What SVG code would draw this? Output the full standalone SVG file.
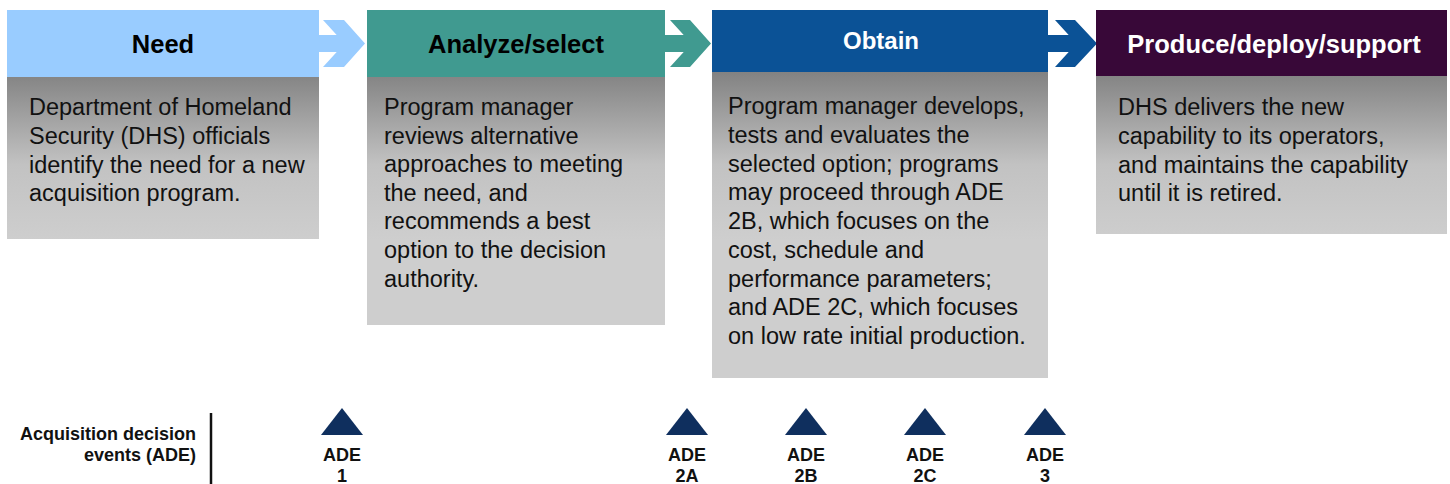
<svg xmlns="http://www.w3.org/2000/svg" width="1450" height="484" viewBox="0 0 1450 484">
<defs>
<linearGradient id="bodyGrad" gradientUnits="userSpaceOnUse" x1="0" y1="72" x2="0" y2="240">
<stop offset="0" stop-color="#828282"/>
<stop offset="0.55" stop-color="#c2c2c2"/>
<stop offset="1" stop-color="#cecece"/>
</linearGradient>
<style>
.hd{font-family:"Liberation Sans",Arial,sans-serif;font-weight:bold;font-size:25.5px;text-anchor:middle}
.bd{font-family:"Liberation Sans",Arial,sans-serif;font-size:23.5px;fill:#111}
.lb{font-family:"Liberation Sans",Arial,sans-serif;font-weight:bold;font-size:18px;fill:#111}
.ade{text-anchor:middle}
.tri{fill:#0f2f5e}
.body{fill:url(#bodyGrad)}
</style>
</defs>
<rect width="1450" height="484" fill="#ffffff"/>

<g id="connectors">
<polygon points="318,35 336.7,35 323,20 344,20 365,43.5 344,67 323,67 336.7,52 318,52" fill="#99ccff"/>
<polygon points="664,35 683.7,35 670,20 690,20 711,43.5 690,67 670,67 683.7,52 664,52" fill="#409a90"/>
<polygon points="1047,35 1068.7,35 1055,20 1075,20 1097,43.5 1075,67 1055,67 1068.7,52 1047,52" fill="#0b5296"/>
</g>

<g id="need">
<rect x="7" y="10" width="312" height="67" fill="#99ccff"/>
<rect class="body" x="7" y="77" width="312" height="162"/>
<text class="hd" x="163" y="53" fill="#000">Need</text>
<text class="bd" x="29" y="115">
<tspan x="29" y="115">Department of Homeland</tspan>
<tspan x="29" y="143.8">Security (DHS) officials</tspan>
<tspan x="29" y="172.6">identify the need for a new</tspan>
<tspan x="29" y="201.4">acquisition program.</tspan>
</text>
</g>

<g id="analyze">
<rect x="367" y="10" width="298" height="67" fill="#409a90"/>
<rect class="body" x="367" y="77" width="298" height="248"/>
<text class="hd" x="516" y="53" fill="#000">Analyze/select</text>
<text class="bd">
<tspan x="384" y="115">Program manager</tspan>
<tspan x="384" y="143.6">reviews alternative</tspan>
<tspan x="384" y="172.2">approaches to meeting</tspan>
<tspan x="384" y="200.8">the need, and</tspan>
<tspan x="384" y="229.4">recommends a best</tspan>
<tspan x="384" y="258">option to the decision</tspan>
<tspan x="384" y="286.6">authority.</tspan>
</text>
</g>

<g id="obtain">
<rect x="712" y="10" width="336" height="62" fill="#0b5296"/>
<rect class="body" x="712" y="72" width="336" height="306"/>
<text class="hd" x="881" y="49" fill="#fff" style="font-size:24px">Obtain</text>
<text class="bd">
<tspan x="728" y="114">Program manager develops,</tspan>
<tspan x="728" y="142.75">tests and evaluates the</tspan>
<tspan x="728" y="171.5">selected option; programs</tspan>
<tspan x="728" y="200.25">may proceed through ADE</tspan>
<tspan x="728" y="229">2B, which focuses on the</tspan>
<tspan x="728" y="257.75">cost, schedule and</tspan>
<tspan x="728" y="286.5">performance parameters;</tspan>
<tspan x="728" y="315.25">and ADE 2C, which focuses</tspan>
<tspan x="728" y="344">on low rate initial production.</tspan>
</text>
</g>

<g id="produce">
<rect x="1096" y="10" width="351" height="66" fill="#380838"/>
<rect class="body" x="1096" y="76" width="351" height="158"/>
<text class="hd" x="1274" y="53" fill="#fff">Produce/deploy/support</text>
<text class="bd">
<tspan x="1118" y="115">DHS delivers the new</tspan>
<tspan x="1118" y="143.8">capability to its operators,</tspan>
<tspan x="1118" y="172.6">and maintains the capability</tspan>
<tspan x="1118" y="201.4">until it is retired.</tspan>
</text>
</g>

<g id="ade-legend">
<text class="lb" text-anchor="end" x="196" y="440">Acquisition decision</text>
<text class="lb" text-anchor="end" x="196" y="461">events (ADE)</text>
<line x1="211" y1="413" x2="211" y2="484" stroke="#111" stroke-width="2.5"/>
</g>

<g id="ade1">
<polygon class="tri" points="321,435 342,408 363,435"/>
<text class="lb ade" x="342" y="461">ADE</text>
<text class="lb ade" x="342" y="482">1</text>
</g>
<g id="ade2a">
<polygon class="tri" points="666,435 687,408 708,435"/>
<text class="lb ade" x="687" y="461">ADE</text>
<text class="lb ade" x="687" y="482">2A</text>
</g>
<g id="ade2b">
<polygon class="tri" points="785,435 806,408 827,435"/>
<text class="lb ade" x="806" y="461">ADE</text>
<text class="lb ade" x="806" y="482">2B</text>
</g>
<g id="ade2c">
<polygon class="tri" points="904,435 925,408 946,435"/>
<text class="lb ade" x="925" y="461">ADE</text>
<text class="lb ade" x="925" y="482">2C</text>
</g>
<g id="ade3">
<polygon class="tri" points="1024,435 1045,408 1066,435"/>
<text class="lb ade" x="1045" y="461">ADE</text>
<text class="lb ade" x="1045" y="482">3</text>
</g>
</svg>
